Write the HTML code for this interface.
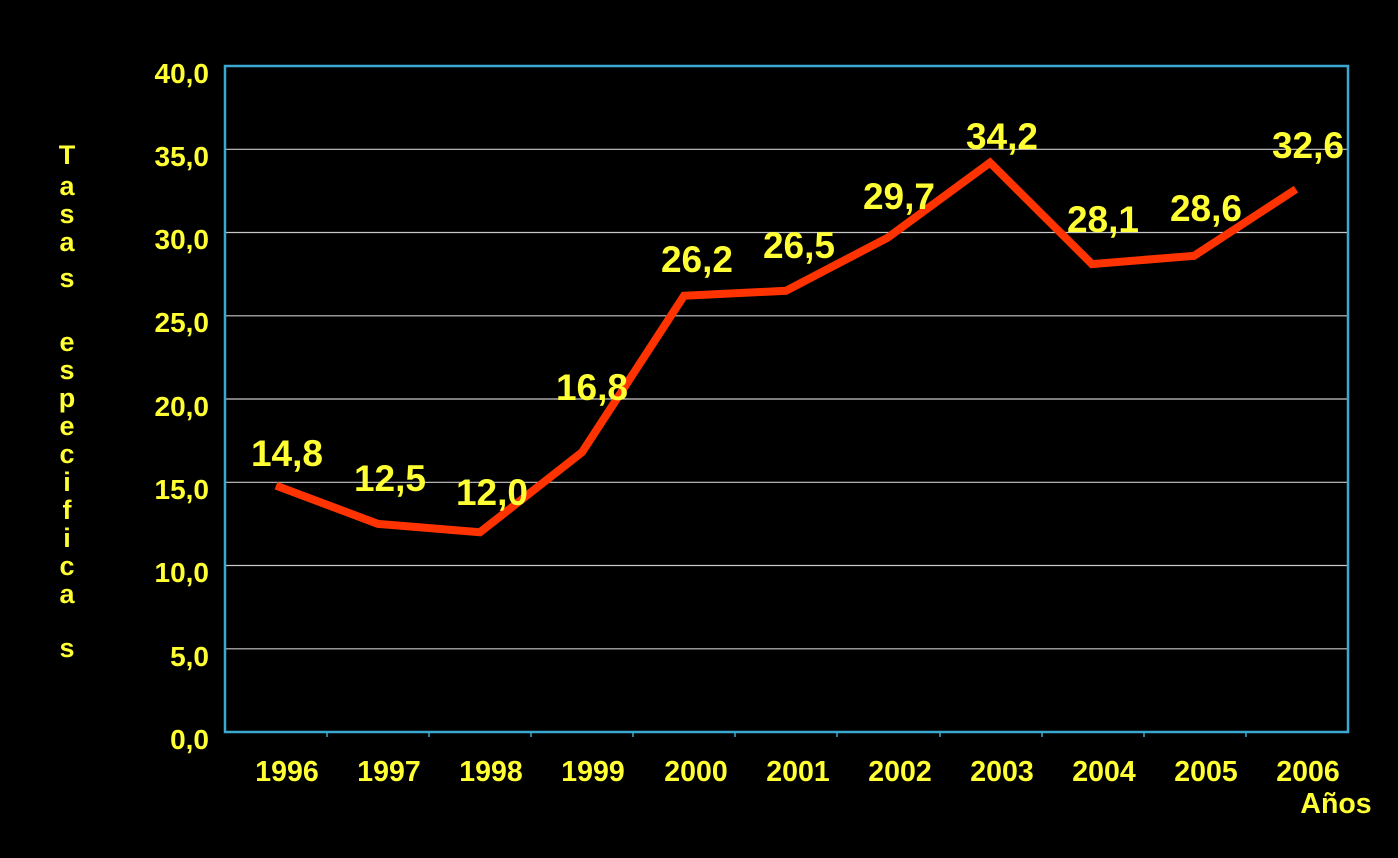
<!DOCTYPE html>
<html><head><meta charset="utf-8"><style>html,body{margin:0;padding:0;background:#000;}svg{display:block}</style></head>
<body>
<svg width="1398" height="858" xmlns="http://www.w3.org/2000/svg" font-family="Liberation Sans, Arial, sans-serif" font-weight="bold">
<rect width="1398" height="858" fill="#000"/>
<g stroke="#c8c8c8" stroke-width="1.2">
<line x1="225" x2="1348" y1="149.3" y2="149.3"/>
<line x1="225" x2="1348" y1="232.5" y2="232.5"/>
<line x1="225" x2="1348" y1="315.8" y2="315.8"/>
<line x1="225" x2="1348" y1="399" y2="399"/>
<line x1="225" x2="1348" y1="482.3" y2="482.3"/>
<line x1="225" x2="1348" y1="565.5" y2="565.5"/>
<line x1="225" x2="1348" y1="648.8" y2="648.8"/>
</g>
<rect x="225" y="66" width="1123" height="666" fill="none" stroke="#3aa8d0" stroke-width="2.5"/>
<g stroke="#3aa8d0" stroke-width="1.5">
<line x1="327" x2="327" y1="732" y2="737"/><line x1="429" x2="429" y1="732" y2="737"/><line x1="531" x2="531" y1="732" y2="737"/><line x1="633" x2="633" y1="732" y2="737"/><line x1="735" x2="735" y1="732" y2="737"/><line x1="837" x2="837" y1="732" y2="737"/><line x1="940" x2="940" y1="732" y2="737"/><line x1="1042" x2="1042" y1="732" y2="737"/><line x1="1144" x2="1144" y1="732" y2="737"/><line x1="1246" x2="1246" y1="732" y2="737"/>
</g>
<g fill="#ffff33" font-size="28" text-anchor="end">
<text x="209" y="83">40,0</text><text x="209" y="166">35,0</text><text x="209" y="249">30,0</text><text x="209" y="332">25,0</text><text x="209" y="416">20,0</text><text x="209" y="499">15,0</text><text x="209" y="582">10,0</text><text x="209" y="666">5,0</text><text x="209" y="749">0,0</text>
</g>
<g fill="#ffff33" font-size="28.5" text-anchor="middle">
<text x="287" y="781">1996</text><text x="389" y="781">1997</text><text x="491" y="781">1998</text><text x="593" y="781">1999</text><text x="696" y="781">2000</text><text x="798" y="781">2001</text><text x="900" y="781">2002</text><text x="1002" y="781">2003</text><text x="1104" y="781">2004</text><text x="1206" y="781">2005</text><text x="1308" y="781">2006</text>
<text x="1336" y="813">Años</text>
</g>
<g fill="#ffff33" font-size="27" text-anchor="middle">
<text x="67" y="164">T</text><text x="67" y="195">a</text><text x="67" y="223">s</text><text x="67" y="251">a</text><text x="67" y="287">s</text>
<text x="67" y="351">e</text><text x="67" y="379">s</text><text x="67" y="407">p</text><text x="67" y="435">e</text><text x="67" y="463">c</text><text x="67" y="491">i</text><text x="67" y="519">f</text><text x="67" y="547">i</text><text x="67" y="575">c</text><text x="67" y="603">a</text><text x="67" y="657">s</text>
</g>
<polyline fill="none" stroke="#ff3300" stroke-width="8" stroke-linejoin="miter" points="276,485.6 378,523.9 480,532.2 582,452.3 684,295.8 786,290.8 888,237.5 990,162.6 1092,264.1 1194,255.8 1296,189.2"/>
<g fill="#ffff33" font-size="37" text-anchor="middle">
<text x="287" y="466">14,8</text><text x="390" y="491">12,5</text><text x="492" y="505">12,0</text><text x="592" y="400">16,8</text><text x="697" y="272">26,2</text><text x="799" y="258">26,5</text><text x="899" y="209">29,7</text><text x="1002" y="149">34,2</text><text x="1103" y="232">28,1</text><text x="1206" y="221">28,6</text><text x="1308" y="158">32,6</text>
</g>
</svg>
</body></html>
